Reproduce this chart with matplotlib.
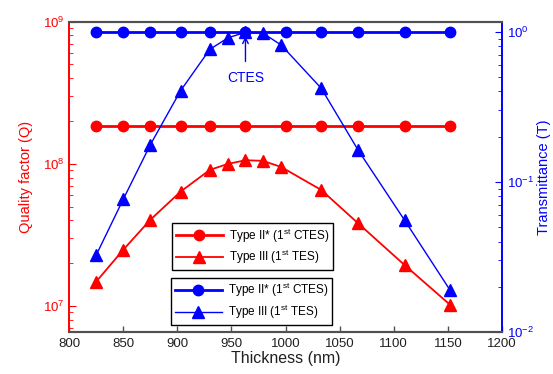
import matplotlib
matplotlib.use("Agg")
import matplotlib.pyplot as plt
from matplotlib.ticker import LogLocator, NullFormatter, MultipleLocator

plt.rcParams["font.family"] = ["Liberation Sans", "DejaVu Sans"]
plt.rcParams["mathtext.fontset"] = "custom"
plt.rcParams["mathtext.rm"] = "Liberation Sans"
plt.rcParams["mathtext.it"] = "Liberation Sans:italic"
plt.rcParams["mathtext.bf"] = "Liberation Sans:bold"

# thickness (nm)
thick_ctes = [825, 850, 875, 903, 930, 963, 1000, 1033, 1067, 1110, 1152]
thick_tes = [825, 850, 875, 903, 930, 947, 963, 979, 996, 1033, 1067, 1110, 1152]

# quality factor (left axis)
q_ctes = [1.85e8] * len(thick_ctes)
q_tes = [1.48e7, 2.48e7, 4.03e7, 6.37e7, 9.06e7, 1.0e8, 1.06e8, 1.05e8,
         9.5e7, 6.55e7, 3.82e7, 1.94e7, 1.02e7]

# transmittance (right axis)
t_ctes = [0.995] * len(thick_ctes)
t_tes = [0.0324, 0.0763, 0.176, 0.404, 0.762, 0.912, 0.99, 0.98,
         0.815, 0.42, 0.163, 0.0555, 0.019]

RED = "#ff0000"
BLUE = "#0000ff"
GRAY = "#505050"

fig = plt.figure(figsize=(5.53, 3.74), dpi=100)
ax = fig.add_axes([0.1248, 0.1123, 0.783, 0.8297])
ax2 = ax.twinx()

# left axis series
l1, = ax.plot(thick_ctes, q_ctes, color=RED, marker="o", markersize=7.5,
              linewidth=2.0, label="Type II* (1$^{\\mathrm{st}}$ CTES)")
l2, = ax.plot(thick_tes, q_tes, color=RED, marker="^", markersize=8.5,
              linewidth=1.3, label="Type III (1$^{\\mathrm{st}}$ TES)")

# right axis series
l3, = ax2.plot(thick_ctes, t_ctes, color=BLUE, marker="o", markersize=7.5,
               linewidth=2.0, label="Type II* (1$^{\\mathrm{st}}$ CTES)")
l4, = ax2.plot(thick_tes, t_tes, color=BLUE, marker="^", markersize=8.5,
               linewidth=1.0, label="Type III (1$^{\\mathrm{st}}$ TES)")

ax.set_xlim(800, 1200)
ax.set_yscale("log")
ax.set_ylim(6.56e6, 1e9)
ax2.set_yscale("log")
ax2.set_ylim(1e-2, 1.166)

ax.xaxis.set_major_locator(MultipleLocator(50))
ax.tick_params(axis="x", direction="in", length=4, width=1, colors=GRAY,
               labelcolor="#202020", labelsize=9.5, pad=4, top=False)
ax.tick_params(axis="y", which="both", direction="in", colors=RED,
               labelcolor=RED, labelsize=9.5)
ax.tick_params(axis="y", which="major", length=5)
ax.tick_params(axis="y", which="minor", length=3)
ax2.tick_params(axis="y", which="both", direction="in", colors=BLUE,
                labelcolor=BLUE, labelsize=9.5)
ax2.tick_params(axis="y", which="major", length=5)
ax2.tick_params(axis="y", which="minor", length=3)
ax.yaxis.set_minor_locator(LogLocator(base=10, subs=range(2, 10)))
ax.yaxis.set_minor_formatter(NullFormatter())
ax2.yaxis.set_minor_locator(LogLocator(base=10, subs=range(2, 10)))
ax2.yaxis.set_minor_formatter(NullFormatter())

for a in (ax, ax2):
    a.spines["top"].set_color(GRAY)
    a.spines["bottom"].set_color(GRAY)
    a.spines["top"].set_linewidth(1.5)
    a.spines["bottom"].set_linewidth(1.5)
    a.spines["left"].set_color(RED)
    a.spines["right"].set_color(BLUE)
    a.spines["left"].set_linewidth(1.2)
    a.spines["right"].set_linewidth(1.2)

ax.set_xlabel("Thickness (nm)", fontsize=11.5, color="#202020", labelpad=1)
ax.set_ylabel("Quality factor (Q)", fontsize=10.5, color=RED, labelpad=7)
ax2.set_ylabel("Transmittance (T)", fontsize=10.5, color=BLUE, labelpad=2)

ax2.annotate("CTES", xy=(963, 0.93), xytext=(963, 0.49),
             ha="center", va="center", color=BLUE, fontsize=10,
             arrowprops=dict(arrowstyle="->", color=BLUE, lw=1.0,
                             shrinkA=5, shrinkB=0))

leg_kw = dict(loc="upper left", borderaxespad=0, fontsize=8.5,
              handlelength=4.0, fancybox=False, edgecolor="black",
              framealpha=1, borderpad=0.3, labelspacing=0.3,
              handletextpad=0.5)
leg1 = ax.legend(handles=[l1, l2], bbox_to_anchor=(0.238, 0.352), **leg_kw)
leg1.get_frame().set_linewidth(1.0)
leg2 = ax2.legend(handles=[l3, l4], bbox_to_anchor=(0.236, 0.175), **leg_kw)
leg2.get_frame().set_linewidth(1.0)

fig.savefig("out.png", dpi=100)
